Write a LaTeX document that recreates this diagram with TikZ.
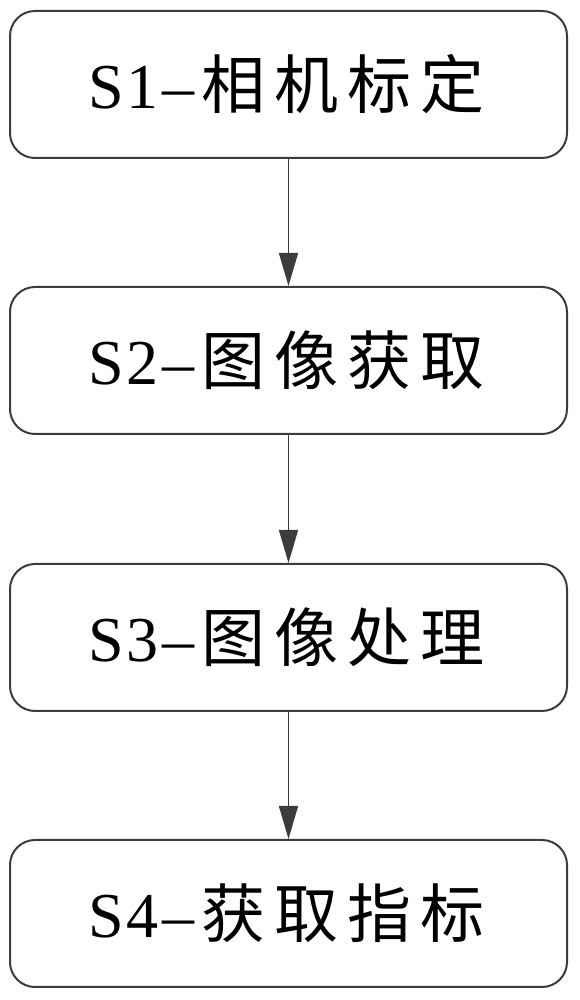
\documentclass[tikz,border=0pt]{standalone}
\usepackage{fontspec}
\setmainfont{Liberation Serif}
\newfontfamily\cjk{Noto Sans CJK SC}
\usetikzlibrary{arrows.meta}
\newcommand{\hb}[1]{\makebox[36.5pt][c]{#1}}
\newcommand{\fb}[1]{\makebox[73pt][c]{\cjk #1}}
\definecolor{edge}{RGB}{60,60,60}
\tikzset{
  stepbox/.style={draw=edge, line width=2pt, rounded corners=25pt,
    minimum width=557pt, minimum height=147pt, inner sep=0pt,
    font=\fontsize{64}{70}\selectfont, text=black},
  arr/.style={draw=edge, line width=1.5pt,
    -{Triangle[length=33pt,width=19pt]}}
}
\begin{document}
\begin{tikzpicture}[x=1pt,y=1pt]
\useasboundingbox (0,0) rectangle (579,1000);
\node[stepbox] (s1) at (288.5,915.5) {\hb{S}\hb{1}\hb{–}\fb{相}\fb{机}\fb{标}\fb{定}};
\node[stepbox] (s2) at (288.5,639.5) {\hb{S}\hb{2}\hb{–}\fb{图}\fb{像}\fb{获}\fb{取}};
\node[stepbox] (s3) at (288.5,362.5) {\hb{S}\hb{3}\hb{–}\fb{图}\fb{像}\fb{处}\fb{理}};
\node[stepbox] (s4) at (288.5,86.5) {\hb{S}\hb{4}\hb{–}\fb{获}\fb{取}\fb{指}\fb{标}};
\draw[arr] (s1.south) -- (s2.north);
\draw[arr] (s2.south) -- (s3.north);
\draw[arr] (s3.south) -- (s4.north);
\end{tikzpicture}
\end{document}
